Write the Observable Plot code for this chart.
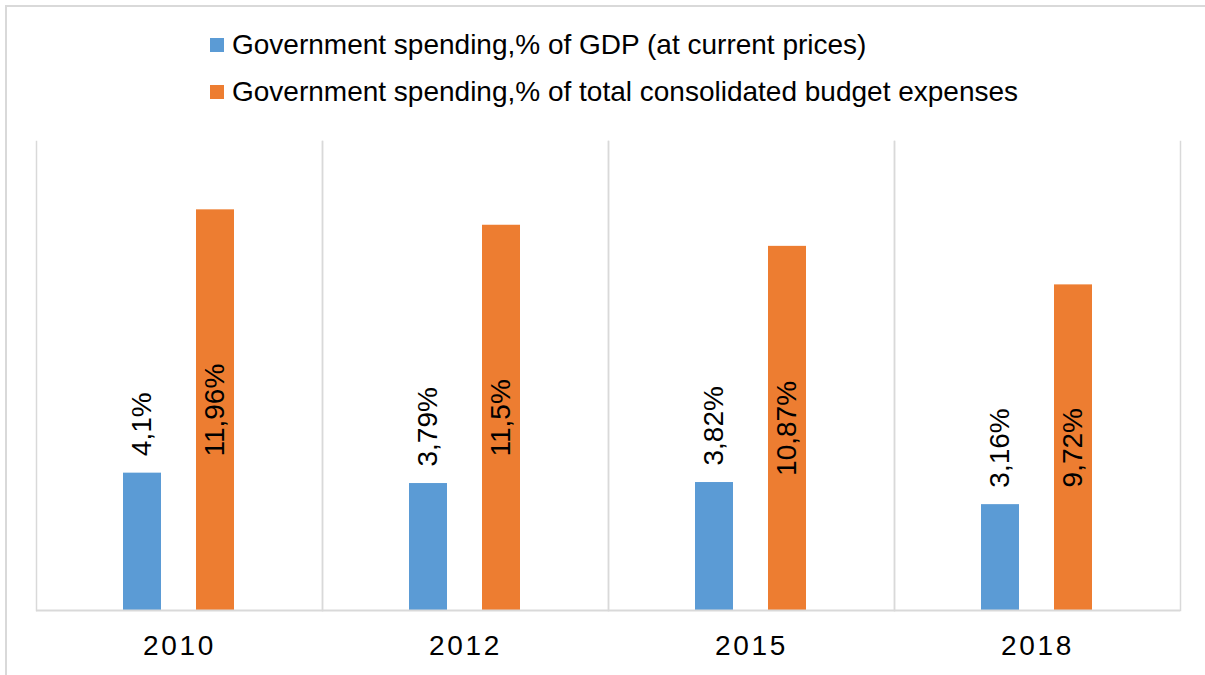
<!DOCTYPE html>
<html>
<head>
<meta charset="utf-8">
<script src="https://cdn.jsdelivr.net/npm/d3@7"></script>
<script src="https://cdn.jsdelivr.net/npm/@observablehq/plot@0.6"></script>
<style>
  html, body { margin: 0; padding: 0; background: #fff; overflow: hidden; }
  body { width: 1205px; height: 675px; position: relative; font-family: "Liberation Sans", Arial, sans-serif; }
  #border { position: absolute; left: 5px; top: 5px; width: 1400px; height: 900px; border: 2px solid #d9d9d9; box-sizing: border-box; }
  .leg { position: absolute; left: 210px; height: 32px; line-height: 32px; display: flex; align-items: center; font-size: 28px; color: #000; white-space: nowrap; }
  .sw { width: 14px; height: 14px; margin-right: 8px; flex: none; }
  #chart { position: absolute; left: 0; top: 130px; }
  #chart g[aria-label="fx-axis tick label"] text { letter-spacing: 2.7px; }
</style>
</head>
<body>
<div id="border"></div>
<div id="legend"></div>
<div id="chart"></div>
<script>
const years = ["2010", "2012", "2015", "2018"];
const gdpShare = [4.1, 3.79, 3.82, 3.16];
const budgetShare = [11.96, 11.5, 10.87, 9.72];
const seriesKeys = ["gdp", "budget"];
const seriesNames = [
  "Government spending,% of GDP (at current prices)",
  "Government spending,% of total consolidated budget expenses"
];
const seriesColors = ["#5B9BD5", "#ED7D31"];

const rows = [];
years.forEach((yr, i) => {
  rows.push({year: yr, series: "gdp", value: gdpShare[i]});
  rows.push({year: yr, series: "budget", value: budgetShare[i]});
});
const fmt = v => String(v).replace(".", ",") + "%";

// legend
const legend = document.getElementById("legend");
seriesNames.forEach((name, i) => {
  const row = document.createElement("div");
  row.className = "leg";
  row.style.top = (29 + i * 47) + "px";
  const sw = document.createElement("span");
  sw.className = "sw";
  sw.style.background = seriesColors[i];
  const tx = document.createElement("span");
  tx.textContent = name;
  row.appendChild(sw);
  row.appendChild(tx);
  legend.appendChild(row);
});

const grid = "#d9d9d9";
const chart = Plot.plot({
  width: 1205,
  height: 545,
  marginLeft: 35,
  marginRight: 25,
  marginTop: 11,
  marginBottom: 65,
  style: {fontFamily: "'Liberation Sans', Arial, sans-serif", background: "transparent"},
  fx: {domain: years, padding: 0, label: null},
  x: {domain: seriesKeys, paddingInner: 0.473, paddingOuter: 1.169, axis: null},
  y: {domain: [0, 14], axis: null},
  color: {domain: seriesKeys, range: seriesColors},
  marks: [
    Plot.frame({anchor: "left", stroke: grid, strokeWidth: 1.5}),
    Plot.frame({anchor: "right", stroke: grid, strokeWidth: 1.5}),
    Plot.barY(rows, {fx: "year", x: "series", y: "value", fill: "series"}),
    Plot.ruleY([0], {stroke: grid, strokeWidth: 2}),
    Plot.text(rows.filter(d => d.series === "gdp"), {
      fx: "year", x: "series", y: "value", text: d => fmt(d.value),
      rotate: -90, textAnchor: "start", dy: -17, fontSize: 28, fill: "#000"
    }),
    Plot.text(rows.filter(d => d.series === "budget"), {
      fx: "year", x: "series", y: d => d.value / 2, text: d => fmt(d.value),
      rotate: -90, textAnchor: "middle", fontSize: 28, fill: "#000"
    }),
    Plot.axisFx({anchor: "bottom", label: null, tickSize: 0, tickPadding: 25, fontSize: 28, fill: "#000"})
  ]
});
document.getElementById("chart").appendChild(chart);
</script>
</body>
</html>
